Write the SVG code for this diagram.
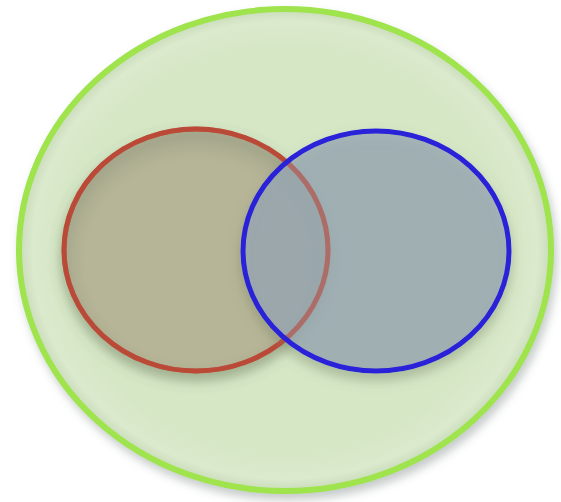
<svg xmlns="http://www.w3.org/2000/svg" width="561" height="502" viewBox="0 0 561 502">
<defs>
<filter id="outerShadow" x="-10%" y="-10%" width="125%" height="125%">
<feDropShadow dx="3" dy="6" stdDeviation="5" flood-color="#7f8a86" flood-opacity="0.45"/>
</filter>
<filter id="innerShadow" x="-15%" y="-15%" width="130%" height="135%">
<feDropShadow dx="0" dy="7" stdDeviation="6" flood-color="#6f8060" flood-opacity="0.5"/>
</filter>
<radialGradient id="outerFill" cx="50%" cy="50%" r="50%">
<stop offset="0.85" stop-color="#d6e7c6"/>
<stop offset="0.95" stop-color="#dbe9cd"/>
<stop offset="1" stop-color="#c9dcba"/>
</radialGradient>
<radialGradient id="redFill" cx="50%" cy="55%" r="52%">
<stop offset="0.8" stop-color="#b7b597"/>
<stop offset="1" stop-color="#aaab90"/>
</radialGradient>
</defs>
<style>
.set{stroke-width:5}
</style>
<rect width="561" height="502" fill="#ffffff"/>
<g id="universe" filter="url(#outerShadow)">
<ellipse cx="285" cy="250" rx="266" ry="241" fill="url(#outerFill)" stroke="#9fe34e" stroke-width="6"/>
</g>
<g id="setA" filter="url(#innerShadow)">
<ellipse class="set" cx="196" cy="250" rx="132" ry="121" fill="url(#redFill)" stroke="#c0432c"/>
</g>
<g id="setB" filter="url(#innerShadow)">
<ellipse cx="376" cy="251" rx="133" ry="120" fill="#9aa8b6" fill-opacity="0.75"/>
<ellipse class="set" cx="196" cy="250" rx="132" ry="121" fill="none" stroke="#b84a40" stroke-opacity="0.55"/>
<ellipse class="set" cx="376" cy="251" rx="133" ry="120" fill="none" stroke="#2a20d8"/>
</g>
<g id="connectors"/>
</svg>
